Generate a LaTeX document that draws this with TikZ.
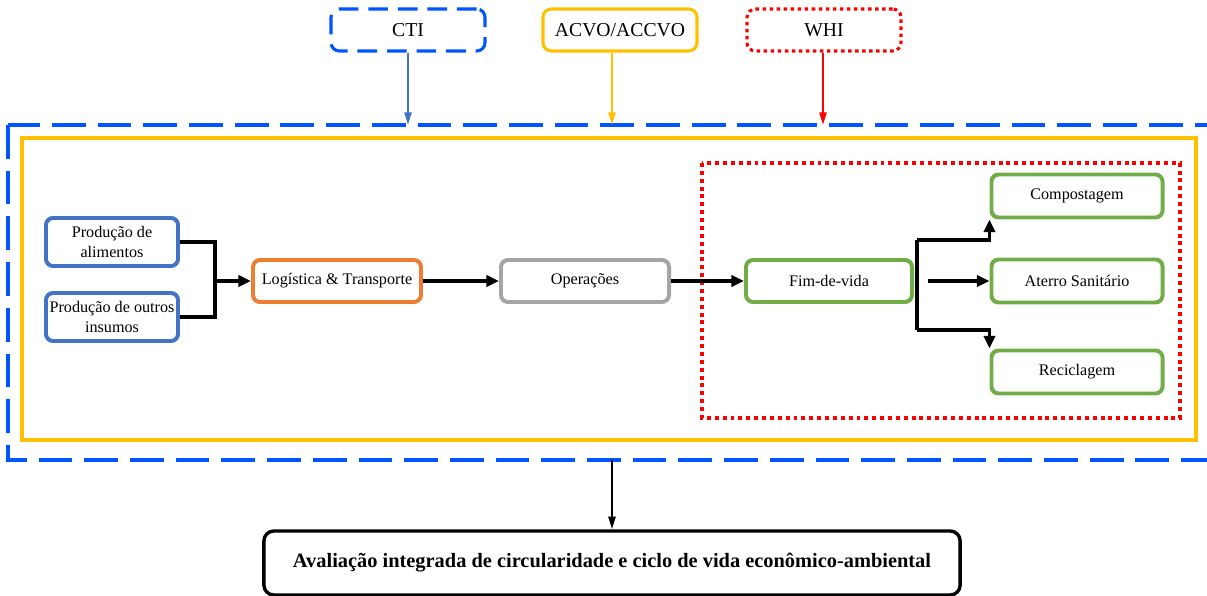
\documentclass[tikz,border=0pt]{standalone}
\usepackage{fontspec}
\setmainfont{Liberation Serif}
\usepackage{tikz}
\usetikzlibrary{arrows.meta,calc}

\definecolor{ctiBlue}{HTML}{0055FF}
\definecolor{boxBlue}{HTML}{4472C4}
\definecolor{acvoYellow}{HTML}{FFC000}
\definecolor{logOrange}{HTML}{ED7D31}
\definecolor{opGray}{HTML}{A5A5A5}
\definecolor{eolGreen}{HTML}{70AD47}
\definecolor{whiRed}{HTML}{FF0000}

\begin{document}
\begin{tikzpicture}[x=0.025cm, y=-0.025cm, font=\fontsize{11.5}{14}\selectfont,
  stage/.style={draw, line width=2.8pt, rounded corners=5pt, fill=white,
    align=center, inner sep=1pt, minimum width=4.2cm, minimum height=1.05cm},
  method/.style={draw, line width=2.2pt, rounded corners=6pt, fill=white,
    minimum width=3.85cm, minimum height=1.05cm, font=\fontsize{14}{16}\selectfont},
  flow/.style={line width=2.2pt, -{Triangle[length=9pt,width=8pt]}},
  feed/.style={line width=1.6pt, -{Triangle[length=9pt,width=5pt]}}]
  \useasboundingbox (0,0) rectangle (1207,596);

  % Frames of the three methods
  \draw[ctiBlue, line width=2.8pt, dash pattern=on 24pt off 8.5pt] (8,125) rectangle (1220,460);
  \draw[acvoYellow, line width=3.5pt] (22,138) rectangle (1196,440);
  \draw[whiRed, line width=2.8pt, dash pattern=on 2.8pt off 2.8pt] (702,163) rectangle (1180,418);

  % Methods on top
  \node[method, draw=ctiBlue, dash pattern=on 14pt off 7pt] (cti) at (408,30) {CTI};
  \node[method, draw=acvoYellow] (acvo) at (620,30) {ACVO/ACCVO};
  \node[method, draw=whiRed, dash pattern=on 2.5pt off 2.5pt] (whi) at (824,30) {WHI};

  % Life cycle stages
  \node[stage, draw=boxBlue, minimum width=3.3cm, minimum height=1.2cm] (alim) at (112,242) {Produção de\\alimentos};
  \node[stage, draw=boxBlue, minimum width=3.3cm, minimum height=1.2cm] (insu) at (112,317) {Produção de outros\\insumos};
  \node[stage, draw=logOrange] (logi) at (337,281) {Logística \& Transporte};
  \node[stage, draw=opGray] (oper) at (585,281) {Operações};
  \node[stage, draw=eolGreen, minimum width=4.15cm] (fim) at (829,281) {Fim-de-vida};
  \node[stage, draw=eolGreen, minimum width=4.275cm, minimum height=1.075cm] (comp) at (1077,196) {Compostagem};
  \node[stage, draw=eolGreen, minimum width=4.275cm, minimum height=1.075cm] (ater) at (1077,281) {Aterro Sanitário};
  \node[stage, draw=eolGreen, minimum width=4.275cm, minimum height=1.075cm] (reci) at (1077,372) {Reciclagem};

  % Result
  \node[draw, line width=2.4pt, rounded corners=7pt, minimum width=17.4cm, minimum height=1.6cm,
    font=\bfseries\fontsize{14.5}{16}\selectfont] (aval) at (612,563)
    {Avaliação integrada de circularidade e ciclo de vida econômico-ambiental};

  % Join points
  \coordinate (prodJoin) at (215,281);
  \coordinate (eolTop) at (917,240);
  \coordinate (eolBot) at (917,330);
  \coordinate (aterIn) at (928,281);
  \coordinate (ctiIn) at (408,125);
  \coordinate (acvoIn) at (612,125);
  \coordinate (whiIn) at (823,125);
  \coordinate (frameOut) at (612,460);

  % Connectors
  \draw[feed, boxBlue] (cti) -- (ctiIn);
  \draw[feed, acvoYellow] (acvo.south -| acvoIn) -- (acvoIn);
  \draw[feed, whiRed] (whi.south -| whiIn) -- (whiIn);

  \draw[line width=2.2pt] (alim.east) -| (prodJoin) |- (insu.east);
  \draw[flow] (prodJoin) -- (logi);
  \draw[flow] (logi) -- (oper);
  \draw[flow] (oper) -- (fim);
  \draw[line width=2.2pt] (eolTop) -- (eolBot);
  \draw[flow] (eolTop) -| (comp.south west);
  \draw[flow] (aterIn) -- (ater);
  \draw[flow] (eolBot) -| (reci.north west);
  \draw[feed, black] (frameOut) -- (aval);
\end{tikzpicture}
\end{document}
